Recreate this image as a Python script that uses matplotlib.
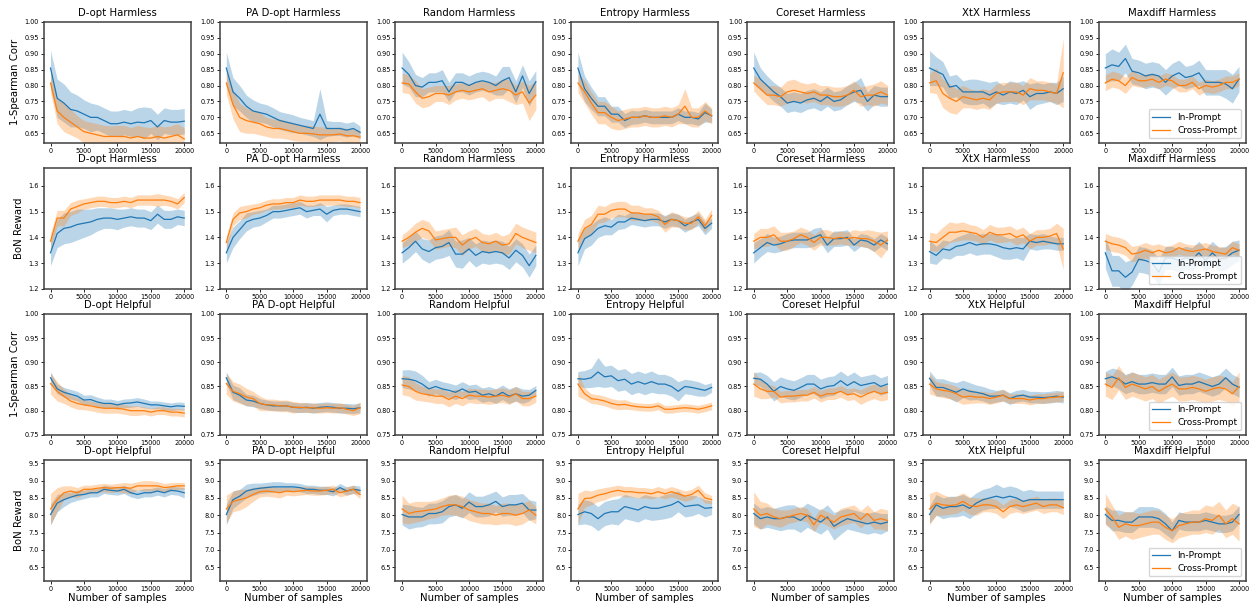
import matplotlib
matplotlib.use("Agg")
import matplotlib.pyplot as plt

SAMPLES = [0, 1000, 2000, 3000, 4000, 5000, 6000, 7000, 8000, 9000, 10000,
           11000, 12000, 13000, 14000, 15000, 16000, 17000, 18000, 19000, 20000]

METHODS = ["D-opt", "PA D-opt", "Random", "Entropy", "Coreset", "XtX", "Maxdiff"]
ROW_TASKS = ["Harmless", "Harmless", "Helpful", "Helpful"]
ROW_YLABELS = ["1-Spearman Corr", "BoN Reward", "1-Spearman Corr", "BoN Reward"]
SERIES_LABELS = ["In-Prompt", "Cross-Prompt"]

# ---------------- Row 1: Harmless, 1-Spearman Corr ----------------
dopt_hl_corr_in = [0.855,0.76,0.745,0.725,0.72,0.71,0.70,0.70,0.69,0.68,0.68,0.685,0.68,0.685,0.683,0.69,0.67,0.69,0.685,0.685,0.688]
dopt_hl_corr_in_sd = [0.055,0.06,0.06,0.055,0.05,0.045,0.045,0.04,0.04,0.04,0.04,0.04,0.04,0.045,0.05,0.04,0.04,0.04,0.04,0.04,0.04]
dopt_hl_corr_cr = [0.808,0.72,0.70,0.685,0.67,0.655,0.65,0.645,0.64,0.64,0.64,0.64,0.635,0.64,0.635,0.635,0.64,0.635,0.64,0.645,0.632]
dopt_hl_corr_cr_sd = [0.03,0.04,0.045,0.04,0.035,0.035,0.035,0.035,0.035,0.033,0.035,0.035,0.033,0.035,0.035,0.033,0.035,0.035,0.033,0.035,0.035]

padopt_hl_corr_in = [0.855,0.78,0.76,0.735,0.72,0.715,0.71,0.70,0.69,0.685,0.68,0.675,0.67,0.665,0.71,0.665,0.665,0.665,0.66,0.665,0.653]
padopt_hl_corr_in_sd = [0.05,0.045,0.04,0.035,0.035,0.03,0.03,0.03,0.028,0.028,0.028,0.025,0.025,0.025,0.08,0.025,0.022,0.022,0.022,0.022,0.02]
padopt_hl_corr_cr = [0.808,0.74,0.70,0.69,0.685,0.68,0.67,0.665,0.665,0.66,0.655,0.65,0.65,0.648,0.645,0.645,0.645,0.648,0.642,0.642,0.638]
padopt_hl_corr_cr_sd = [0.035,0.045,0.045,0.04,0.035,0.035,0.03,0.03,0.03,0.028,0.028,0.025,0.025,0.025,0.025,0.025,0.022,0.022,0.022,0.022,0.02]

random_hl_corr_in = [0.855,0.835,0.80,0.795,0.81,0.81,0.815,0.78,0.81,0.81,0.80,0.81,0.815,0.81,0.80,0.815,0.825,0.78,0.83,0.775,0.812]
random_hl_corr_in_sd = [0.05,0.04,0.035,0.03,0.03,0.03,0.035,0.03,0.03,0.03,0.03,0.03,0.03,0.03,0.03,0.045,0.035,0.035,0.035,0.04,0.035]
random_hl_corr_cr = [0.808,0.805,0.78,0.76,0.765,0.775,0.775,0.77,0.78,0.785,0.78,0.785,0.79,0.78,0.785,0.79,0.785,0.77,0.78,0.745,0.77]
random_hl_corr_cr_sd = [0.03,0.03,0.035,0.03,0.03,0.025,0.025,0.03,0.025,0.025,0.025,0.025,0.025,0.03,0.025,0.03,0.035,0.03,0.035,0.055,0.045]

entropy_hl_corr_in = [0.855,0.79,0.76,0.735,0.735,0.71,0.71,0.69,0.70,0.70,0.705,0.70,0.70,0.70,0.70,0.71,0.70,0.70,0.695,0.715,0.705]
entropy_hl_corr_in_sd = [0.05,0.04,0.035,0.03,0.03,0.025,0.025,0.022,0.022,0.02,0.02,0.02,0.02,0.02,0.02,0.02,0.02,0.02,0.02,0.03,0.02]
entropy_hl_corr_cr = [0.808,0.78,0.745,0.715,0.715,0.70,0.69,0.695,0.70,0.70,0.705,0.70,0.70,0.705,0.70,0.71,0.735,0.70,0.70,0.72,0.705]
entropy_hl_corr_cr_sd = [0.03,0.035,0.035,0.035,0.035,0.035,0.03,0.03,0.03,0.03,0.03,0.03,0.03,0.03,0.03,0.03,0.055,0.03,0.03,0.03,0.025]

coreset_hl_corr_in = [0.855,0.82,0.80,0.78,0.765,0.745,0.75,0.745,0.755,0.76,0.75,0.765,0.75,0.755,0.77,0.78,0.785,0.75,0.77,0.765,0.765]
coreset_hl_corr_in_sd = [0.05,0.035,0.03,0.03,0.03,0.03,0.03,0.03,0.03,0.03,0.03,0.03,0.03,0.03,0.03,0.03,0.04,0.03,0.03,0.03,0.03]
coreset_hl_corr_cr = [0.808,0.79,0.77,0.77,0.765,0.78,0.785,0.78,0.775,0.78,0.77,0.77,0.765,0.765,0.77,0.785,0.765,0.77,0.77,0.78,0.77]
coreset_hl_corr_cr_sd = [0.025,0.03,0.03,0.03,0.03,0.035,0.035,0.03,0.03,0.03,0.03,0.03,0.03,0.03,0.03,0.03,0.03,0.03,0.035,0.035,0.03]

xtx_hl_corr_in = [0.855,0.845,0.835,0.795,0.80,0.78,0.78,0.78,0.78,0.77,0.78,0.77,0.78,0.775,0.785,0.765,0.775,0.775,0.78,0.775,0.79]
xtx_hl_corr_in_sd = [0.055,0.045,0.04,0.035,0.035,0.035,0.04,0.04,0.035,0.04,0.035,0.03,0.035,0.035,0.03,0.04,0.035,0.03,0.03,0.035,0.04]
xtx_hl_corr_cr = [0.808,0.815,0.775,0.76,0.75,0.765,0.76,0.755,0.76,0.755,0.775,0.78,0.78,0.78,0.77,0.79,0.785,0.785,0.78,0.775,0.84]
xtx_hl_corr_cr_sd = [0.03,0.04,0.045,0.045,0.04,0.035,0.03,0.03,0.03,0.03,0.03,0.03,0.03,0.03,0.03,0.035,0.03,0.03,0.03,0.03,0.11]

maxdiff_hl_corr_in = [0.855,0.865,0.86,0.885,0.845,0.84,0.83,0.835,0.83,0.81,0.83,0.84,0.825,0.83,0.84,0.81,0.81,0.81,0.805,0.79,0.82]
maxdiff_hl_corr_in_sd = [0.045,0.05,0.045,0.045,0.04,0.04,0.04,0.04,0.04,0.04,0.04,0.04,0.035,0.035,0.04,0.04,0.04,0.04,0.045,0.045,0.04]
maxdiff_hl_corr_cr = [0.808,0.82,0.815,0.80,0.825,0.815,0.815,0.82,0.81,0.82,0.815,0.80,0.80,0.81,0.79,0.80,0.795,0.80,0.81,0.81,0.82]
maxdiff_hl_corr_cr_sd = [0.025,0.025,0.025,0.025,0.025,0.02,0.02,0.02,0.02,0.02,0.02,0.02,0.02,0.02,0.02,0.02,0.02,0.02,0.02,0.02,0.02]

# ---------------- Row 2: Harmless, BoN Reward ----------------
dopt_hl_bon_in = [1.34,1.415,1.435,1.44,1.45,1.455,1.46,1.47,1.475,1.475,1.47,1.475,1.48,1.475,1.475,1.465,1.49,1.47,1.47,1.48,1.475]
dopt_hl_bon_in_sd = [0.05,0.055,0.06,0.06,0.06,0.055,0.05,0.045,0.04,0.04,0.04,0.035,0.035,0.035,0.035,0.035,0.035,0.035,0.035,0.03,0.03]
dopt_hl_bon_cr = [1.385,1.475,1.475,1.51,1.52,1.53,1.535,1.54,1.54,1.535,1.535,1.54,1.535,1.545,1.545,1.545,1.545,1.545,1.54,1.53,1.555]
dopt_hl_bon_cr_sd = [0.03,0.03,0.03,0.025,0.025,0.02,0.02,0.02,0.02,0.02,0.02,0.02,0.02,0.02,0.02,0.02,0.025,0.02,0.02,0.02,0.02]

padopt_hl_bon_in = [1.34,1.40,1.43,1.46,1.47,1.475,1.485,1.50,1.50,1.505,1.51,1.515,1.50,1.505,1.51,1.49,1.505,1.51,1.51,1.505,1.50]
padopt_hl_bon_in_sd = [0.04,0.04,0.035,0.035,0.03,0.03,0.025,0.025,0.025,0.025,0.025,0.025,0.025,0.02,0.025,0.03,0.02,0.02,0.02,0.02,0.02]
padopt_hl_bon_cr = [1.38,1.47,1.495,1.50,1.51,1.515,1.525,1.53,1.53,1.535,1.535,1.545,1.54,1.54,1.545,1.545,1.545,1.545,1.54,1.54,1.535]
padopt_hl_bon_cr_sd = [0.025,0.025,0.025,0.025,0.02,0.02,0.02,0.02,0.02,0.02,0.02,0.02,0.02,0.02,0.02,0.02,0.02,0.02,0.02,0.02,0.02]

random_hl_bon_in = [1.34,1.36,1.385,1.355,1.345,1.36,1.365,1.38,1.335,1.335,1.355,1.33,1.345,1.34,1.345,1.34,1.32,1.35,1.33,1.29,1.33]
random_hl_bon_in_sd = [0.04,0.04,0.04,0.04,0.045,0.045,0.045,0.05,0.05,0.055,0.045,0.045,0.045,0.045,0.045,0.045,0.045,0.045,0.045,0.045,0.04]
random_hl_bon_cr = [1.385,1.40,1.42,1.435,1.425,1.39,1.395,1.40,1.40,1.37,1.39,1.40,1.38,1.375,1.385,1.37,1.375,1.415,1.40,1.39,1.38]
random_hl_bon_cr_sd = [0.025,0.03,0.035,0.035,0.035,0.035,0.035,0.035,0.04,0.04,0.035,0.035,0.035,0.035,0.035,0.035,0.04,0.04,0.04,0.04,0.04]

entropy_hl_bon_in = [1.34,1.395,1.41,1.435,1.445,1.44,1.46,1.46,1.475,1.47,1.465,1.47,1.47,1.46,1.47,1.465,1.445,1.46,1.47,1.435,1.455]
entropy_hl_bon_in_sd = [0.05,0.04,0.04,0.035,0.035,0.03,0.03,0.025,0.025,0.025,0.025,0.025,0.025,0.025,0.025,0.025,0.025,0.025,0.025,0.025,0.02]
entropy_hl_bon_cr = [1.385,1.435,1.45,1.49,1.49,1.505,1.51,1.51,1.495,1.495,1.49,1.49,1.48,1.45,1.47,1.465,1.455,1.455,1.48,1.445,1.485]
entropy_hl_bon_cr_sd = [0.03,0.035,0.035,0.035,0.03,0.03,0.03,0.03,0.03,0.03,0.025,0.025,0.025,0.03,0.03,0.025,0.025,0.025,0.025,0.025,0.025]

coreset_hl_bon_in = [1.34,1.36,1.38,1.37,1.375,1.385,1.39,1.39,1.39,1.40,1.41,1.37,1.395,1.395,1.40,1.37,1.39,1.385,1.37,1.39,1.375]
coreset_hl_bon_in_sd = [0.04,0.035,0.035,0.03,0.03,0.03,0.03,0.03,0.03,0.035,0.03,0.03,0.03,0.03,0.03,0.025,0.025,0.025,0.025,0.025,0.025]
coreset_hl_bon_cr = [1.385,1.40,1.40,1.41,1.385,1.385,1.395,1.41,1.40,1.38,1.40,1.40,1.395,1.40,1.395,1.40,1.395,1.395,1.385,1.37,1.39]
coreset_hl_bon_cr_sd = [0.03,0.035,0.035,0.035,0.035,0.035,0.03,0.03,0.03,0.03,0.03,0.03,0.025,0.025,0.025,0.03,0.03,0.035,0.04,0.05,0.035]

xtx_hl_bon_in = [1.345,1.33,1.355,1.35,1.365,1.37,1.38,1.37,1.375,1.375,1.37,1.36,1.355,1.36,1.355,1.385,1.38,1.385,1.38,1.375,1.375]
xtx_hl_bon_in_sd = [0.045,0.035,0.035,0.035,0.035,0.04,0.04,0.04,0.04,0.04,0.045,0.045,0.04,0.04,0.045,0.03,0.03,0.03,0.025,0.025,0.025]
xtx_hl_bon_cr = [1.385,1.38,1.40,1.42,1.42,1.425,1.42,1.415,1.40,1.42,1.41,1.41,1.415,1.40,1.41,1.385,1.40,1.40,1.405,1.415,1.355]
xtx_hl_bon_cr_sd = [0.035,0.035,0.04,0.04,0.035,0.035,0.03,0.03,0.03,0.03,0.03,0.03,0.03,0.03,0.03,0.03,0.03,0.03,0.03,0.04,0.08]

maxdiff_hl_bon_in = [1.34,1.27,1.27,1.245,1.265,1.315,1.31,1.30,1.265,1.32,1.32,1.31,1.32,1.315,1.34,1.31,1.34,1.315,1.32,1.34,1.35]
maxdiff_hl_bon_in_sd = [0.06,0.06,0.06,0.06,0.05,0.05,0.05,0.05,0.05,0.045,0.045,0.045,0.045,0.045,0.045,0.045,0.045,0.045,0.045,0.045,0.04]
maxdiff_hl_bon_cr = [1.385,1.375,1.37,1.36,1.335,1.34,1.35,1.34,1.35,1.34,1.345,1.36,1.35,1.345,1.35,1.355,1.345,1.34,1.335,1.36,1.35]
maxdiff_hl_bon_cr_sd = [0.03,0.03,0.03,0.03,0.03,0.03,0.03,0.03,0.025,0.025,0.025,0.025,0.025,0.025,0.025,0.025,0.025,0.025,0.025,0.025,0.025]

# ---------------- Row 3: Helpful, 1-Spearman Corr ----------------
dopt_hp_corr_in = [0.868,0.845,0.838,0.834,0.83,0.822,0.823,0.818,0.815,0.815,0.812,0.815,0.816,0.818,0.815,0.812,0.812,0.81,0.808,0.81,0.809]
dopt_hp_corr_in_sd = [0.012,0.01,0.01,0.01,0.01,0.01,0.01,0.01,0.009,0.009,0.009,0.009,0.009,0.009,0.009,0.008,0.008,0.008,0.008,0.008,0.008]
dopt_hp_corr_cr = [0.856,0.84,0.83,0.82,0.815,0.812,0.81,0.807,0.805,0.805,0.805,0.803,0.80,0.80,0.80,0.797,0.80,0.80,0.797,0.797,0.795]
dopt_hp_corr_cr_sd = [0.022,0.02,0.015,0.012,0.012,0.01,0.01,0.01,0.01,0.01,0.01,0.01,0.01,0.01,0.008,0.008,0.008,0.008,0.008,0.008,0.008]

padopt_hp_corr_in = [0.868,0.838,0.832,0.822,0.82,0.815,0.812,0.81,0.81,0.81,0.807,0.806,0.807,0.805,0.807,0.808,0.807,0.805,0.805,0.804,0.806]
padopt_hp_corr_in_sd = [0.012,0.015,0.015,0.012,0.012,0.01,0.01,0.01,0.01,0.01,0.01,0.01,0.01,0.01,0.01,0.01,0.01,0.01,0.01,0.01,0.01]
padopt_hp_corr_cr = [0.856,0.84,0.835,0.828,0.825,0.815,0.812,0.812,0.81,0.81,0.807,0.807,0.806,0.806,0.805,0.806,0.805,0.806,0.803,0.80,0.806]
padopt_hp_corr_cr_sd = [0.022,0.02,0.02,0.018,0.015,0.015,0.012,0.012,0.012,0.012,0.012,0.01,0.01,0.01,0.01,0.01,0.01,0.01,0.01,0.01,0.012]

random_hp_corr_in = [0.866,0.865,0.862,0.855,0.845,0.85,0.845,0.842,0.838,0.845,0.838,0.84,0.832,0.835,0.83,0.838,0.83,0.835,0.83,0.832,0.842]
random_hp_corr_in_sd = [0.018,0.02,0.02,0.018,0.015,0.015,0.015,0.015,0.015,0.015,0.015,0.015,0.015,0.015,0.015,0.015,0.015,0.015,0.015,0.012,0.01]
random_hp_corr_cr = [0.853,0.85,0.84,0.835,0.833,0.83,0.83,0.823,0.83,0.825,0.832,0.83,0.83,0.828,0.83,0.832,0.828,0.835,0.825,0.825,0.83]
random_hp_corr_cr_sd = [0.02,0.02,0.018,0.015,0.015,0.015,0.015,0.015,0.015,0.015,0.015,0.015,0.015,0.015,0.015,0.015,0.015,0.015,0.015,0.015,0.012]

entropy_hp_corr_in = [0.866,0.865,0.868,0.88,0.87,0.872,0.862,0.865,0.855,0.86,0.855,0.86,0.855,0.855,0.85,0.84,0.85,0.848,0.845,0.842,0.848]
entropy_hp_corr_in_sd = [0.015,0.018,0.02,0.03,0.022,0.022,0.022,0.022,0.022,0.022,0.022,0.022,0.02,0.02,0.02,0.02,0.015,0.015,0.015,0.012,0.01]
entropy_hp_corr_cr = [0.855,0.835,0.825,0.823,0.82,0.815,0.812,0.813,0.81,0.808,0.807,0.807,0.81,0.803,0.803,0.805,0.806,0.805,0.803,0.806,0.81]
entropy_hp_corr_cr_sd = [0.025,0.012,0.01,0.01,0.01,0.01,0.01,0.01,0.008,0.008,0.008,0.008,0.008,0.008,0.008,0.008,0.008,0.008,0.008,0.008,0.008]

coreset_hp_corr_in = [0.867,0.865,0.855,0.84,0.85,0.845,0.842,0.848,0.855,0.855,0.845,0.85,0.852,0.862,0.852,0.86,0.852,0.855,0.858,0.85,0.855]
coreset_hp_corr_in_sd = [0.012,0.015,0.018,0.02,0.02,0.02,0.02,0.02,0.02,0.02,0.02,0.02,0.02,0.02,0.02,0.02,0.018,0.018,0.018,0.018,0.018]
coreset_hp_corr_cr = [0.855,0.845,0.84,0.84,0.828,0.83,0.83,0.832,0.832,0.838,0.83,0.835,0.835,0.84,0.833,0.835,0.828,0.835,0.84,0.835,0.838]
coreset_hp_corr_cr_sd = [0.025,0.02,0.015,0.012,0.012,0.012,0.012,0.012,0.012,0.012,0.012,0.012,0.012,0.012,0.012,0.012,0.015,0.015,0.015,0.015,0.015]

xtx_hp_corr_in = [0.867,0.848,0.848,0.843,0.838,0.845,0.84,0.838,0.835,0.83,0.83,0.832,0.825,0.83,0.832,0.828,0.828,0.827,0.828,0.83,0.828]
xtx_hp_corr_in_sd = [0.015,0.018,0.018,0.018,0.02,0.018,0.018,0.015,0.015,0.015,0.012,0.012,0.012,0.012,0.012,0.012,0.012,0.012,0.012,0.012,0.012]
xtx_hp_corr_cr = [0.855,0.845,0.842,0.84,0.835,0.828,0.83,0.828,0.828,0.825,0.828,0.832,0.825,0.825,0.825,0.822,0.825,0.825,0.827,0.828,0.83]
xtx_hp_corr_cr_sd = [0.02,0.015,0.015,0.015,0.015,0.015,0.015,0.012,0.012,0.012,0.012,0.012,0.01,0.01,0.01,0.01,0.01,0.01,0.01,0.01,0.01]

maxdiff_hp_corr_in = [0.866,0.87,0.865,0.855,0.86,0.855,0.855,0.858,0.855,0.855,0.87,0.852,0.855,0.855,0.86,0.855,0.85,0.855,0.868,0.855,0.848]
maxdiff_hp_corr_in_sd = [0.015,0.018,0.02,0.02,0.02,0.02,0.02,0.02,0.02,0.02,0.02,0.02,0.02,0.02,0.02,0.02,0.02,0.02,0.02,0.02,0.02]
maxdiff_hp_corr_cr = [0.855,0.848,0.868,0.848,0.855,0.85,0.845,0.85,0.84,0.848,0.855,0.845,0.845,0.848,0.845,0.84,0.845,0.848,0.845,0.835,0.85]
maxdiff_hp_corr_cr_sd = [0.025,0.025,0.025,0.025,0.025,0.025,0.025,0.025,0.025,0.025,0.025,0.025,0.025,0.025,0.025,0.025,0.025,0.025,0.025,0.025,0.03]

# ---------------- Row 4: Helpful, BoN Reward ----------------
dopt_hp_bon_in = [8.02,8.35,8.45,8.52,8.58,8.6,8.65,8.65,8.75,8.72,8.7,8.75,8.65,8.6,8.65,8.65,8.7,8.65,8.72,8.7,8.65]
dopt_hp_bon_in_sd = [0.3,0.25,0.2,0.15,0.15,0.12,0.12,0.12,0.12,0.12,0.12,0.12,0.12,0.12,0.12,0.12,0.12,0.12,0.12,0.12,0.15]
dopt_hp_bon_cr = [8.18,8.45,8.65,8.7,8.65,8.75,8.75,8.78,8.8,8.78,8.8,8.8,8.78,8.85,8.85,8.85,8.85,8.8,8.82,8.85,8.85]
dopt_hp_bon_cr_sd = [0.45,0.35,0.2,0.15,0.15,0.12,0.12,0.12,0.12,0.12,0.12,0.15,0.15,0.12,0.15,0.15,0.12,0.12,0.12,0.1,0.1]

padopt_hp_bon_in = [8.02,8.45,8.55,8.7,8.75,8.78,8.8,8.82,8.82,8.82,8.82,8.8,8.75,8.75,8.72,8.72,8.68,8.8,8.7,8.75,8.72]
padopt_hp_bon_in_sd = [0.3,0.25,0.2,0.2,0.18,0.15,0.15,0.15,0.15,0.12,0.12,0.12,0.12,0.12,0.12,0.12,0.12,0.12,0.12,0.12,0.12]
padopt_hp_bon_cr = [8.18,8.4,8.45,8.5,8.6,8.68,8.7,8.68,8.65,8.7,8.68,8.7,8.72,8.7,8.7,8.72,8.75,8.65,8.7,8.75,8.6]
padopt_hp_bon_cr_sd = [0.4,0.3,0.3,0.25,0.2,0.15,0.15,0.15,0.15,0.12,0.12,0.12,0.12,0.12,0.12,0.12,0.12,0.12,0.12,0.12,0.12]

random_hp_bon_in = [8.02,7.95,7.95,7.95,8.05,8.05,8.1,8.25,8.3,8.2,8.38,8.25,8.25,8.3,8.4,8.25,8.3,8.3,8.35,8.15,8.15]
random_hp_bon_in_sd = [0.3,0.35,0.3,0.28,0.3,0.3,0.32,0.3,0.3,0.28,0.3,0.3,0.3,0.32,0.3,0.28,0.3,0.3,0.28,0.3,0.25]
random_hp_bon_cr = [8.18,8.05,8.1,8.12,8.15,8.18,8.25,8.3,8.3,8.25,8.15,8.1,8.05,8.05,8.0,8.05,8.05,8.0,8.05,8.15,8.0]
random_hp_bon_cr_sd = [0.4,0.3,0.3,0.28,0.25,0.25,0.25,0.28,0.3,0.3,0.3,0.3,0.3,0.3,0.28,0.3,0.3,0.3,0.3,0.28,0.25]

entropy_hp_bon_in = [8.02,8.1,8.05,7.9,8.05,8.1,8.1,8.25,8.2,8.15,8.25,8.2,8.2,8.25,8.3,8.4,8.25,8.28,8.3,8.2,8.22]
entropy_hp_bon_in_sd = [0.3,0.35,0.35,0.35,0.35,0.35,0.38,0.35,0.35,0.35,0.35,0.35,0.33,0.35,0.35,0.3,0.3,0.3,0.25,0.25,0.2]
entropy_hp_bon_cr = [8.18,8.48,8.5,8.58,8.62,8.68,8.72,8.68,8.68,8.65,8.65,8.62,8.68,8.62,8.68,8.62,8.55,8.6,8.72,8.5,8.45]
entropy_hp_bon_cr_sd = [0.45,0.25,0.2,0.18,0.18,0.15,0.15,0.15,0.15,0.15,0.15,0.15,0.15,0.15,0.15,0.15,0.15,0.15,0.15,0.15,0.12]

coreset_hp_bon_in = [8.05,7.9,7.95,7.9,7.9,7.95,7.95,7.85,8.0,7.9,7.8,7.95,7.68,7.8,7.9,7.85,7.8,7.75,7.8,7.75,7.8]
coreset_hp_bon_in_sd = [0.3,0.3,0.3,0.3,0.35,0.35,0.35,0.35,0.35,0.35,0.35,0.35,0.4,0.35,0.3,0.3,0.3,0.3,0.3,0.3,0.25]
coreset_hp_bon_cr = [8.18,8.0,8.05,7.95,7.9,7.95,8.0,8.05,8.0,7.72,8.0,7.9,7.8,7.95,8.0,8.05,7.88,8.05,7.85,7.9,7.85]
coreset_hp_bon_cr_sd = [0.5,0.4,0.3,0.25,0.25,0.2,0.2,0.2,0.2,0.2,0.2,0.2,0.2,0.25,0.25,0.25,0.25,0.25,0.25,0.3,0.3]

xtx_hp_bon_in = [8.02,8.3,8.2,8.25,8.25,8.3,8.2,8.35,8.45,8.5,8.55,8.5,8.55,8.5,8.4,8.45,8.45,8.45,8.45,8.45,8.45]
xtx_hp_bon_in_sd = [0.25,0.3,0.3,0.3,0.3,0.3,0.3,0.3,0.3,0.3,0.35,0.3,0.3,0.3,0.3,0.3,0.25,0.25,0.25,0.25,0.25]
xtx_hp_bon_cr = [8.18,8.35,8.3,8.28,8.3,8.4,8.28,8.25,8.3,8.3,8.25,8.1,8.25,8.3,8.25,8.3,8.35,8.25,8.3,8.3,8.22]
xtx_hp_bon_cr_sd = [0.45,0.35,0.3,0.25,0.25,0.25,0.25,0.25,0.2,0.2,0.2,0.2,0.2,0.2,0.2,0.2,0.2,0.2,0.2,0.2,0.2]

maxdiff_hp_bon_in = [8.02,7.85,7.85,7.8,7.8,7.95,7.95,7.95,7.9,7.75,7.55,7.85,7.8,7.8,7.8,7.85,7.8,7.75,7.75,7.8,8.02]
maxdiff_hp_bon_in_sd = [0.25,0.3,0.3,0.3,0.3,0.3,0.3,0.3,0.3,0.3,0.25,0.25,0.25,0.25,0.25,0.25,0.25,0.25,0.25,0.25,0.25]
maxdiff_hp_bon_cr = [8.18,7.95,7.65,7.75,7.7,7.7,7.75,7.8,7.8,7.65,7.55,7.7,7.75,7.8,7.8,7.9,7.85,8.0,7.75,7.9,7.75]
maxdiff_hp_bon_cr_sd = [0.45,0.35,0.35,0.35,0.4,0.35,0.35,0.35,0.35,0.35,0.35,0.35,0.35,0.35,0.35,0.4,0.4,0.4,0.4,0.45,0.5]

ROW_DATA = [
    [(dopt_hl_corr_in, dopt_hl_corr_in_sd, dopt_hl_corr_cr, dopt_hl_corr_cr_sd),
     (padopt_hl_corr_in, padopt_hl_corr_in_sd, padopt_hl_corr_cr, padopt_hl_corr_cr_sd),
     (random_hl_corr_in, random_hl_corr_in_sd, random_hl_corr_cr, random_hl_corr_cr_sd),
     (entropy_hl_corr_in, entropy_hl_corr_in_sd, entropy_hl_corr_cr, entropy_hl_corr_cr_sd),
     (coreset_hl_corr_in, coreset_hl_corr_in_sd, coreset_hl_corr_cr, coreset_hl_corr_cr_sd),
     (xtx_hl_corr_in, xtx_hl_corr_in_sd, xtx_hl_corr_cr, xtx_hl_corr_cr_sd),
     (maxdiff_hl_corr_in, maxdiff_hl_corr_in_sd, maxdiff_hl_corr_cr, maxdiff_hl_corr_cr_sd)],
    [(dopt_hl_bon_in, dopt_hl_bon_in_sd, dopt_hl_bon_cr, dopt_hl_bon_cr_sd),
     (padopt_hl_bon_in, padopt_hl_bon_in_sd, padopt_hl_bon_cr, padopt_hl_bon_cr_sd),
     (random_hl_bon_in, random_hl_bon_in_sd, random_hl_bon_cr, random_hl_bon_cr_sd),
     (entropy_hl_bon_in, entropy_hl_bon_in_sd, entropy_hl_bon_cr, entropy_hl_bon_cr_sd),
     (coreset_hl_bon_in, coreset_hl_bon_in_sd, coreset_hl_bon_cr, coreset_hl_bon_cr_sd),
     (xtx_hl_bon_in, xtx_hl_bon_in_sd, xtx_hl_bon_cr, xtx_hl_bon_cr_sd),
     (maxdiff_hl_bon_in, maxdiff_hl_bon_in_sd, maxdiff_hl_bon_cr, maxdiff_hl_bon_cr_sd)],
    [(dopt_hp_corr_in, dopt_hp_corr_in_sd, dopt_hp_corr_cr, dopt_hp_corr_cr_sd),
     (padopt_hp_corr_in, padopt_hp_corr_in_sd, padopt_hp_corr_cr, padopt_hp_corr_cr_sd),
     (random_hp_corr_in, random_hp_corr_in_sd, random_hp_corr_cr, random_hp_corr_cr_sd),
     (entropy_hp_corr_in, entropy_hp_corr_in_sd, entropy_hp_corr_cr, entropy_hp_corr_cr_sd),
     (coreset_hp_corr_in, coreset_hp_corr_in_sd, coreset_hp_corr_cr, coreset_hp_corr_cr_sd),
     (xtx_hp_corr_in, xtx_hp_corr_in_sd, xtx_hp_corr_cr, xtx_hp_corr_cr_sd),
     (maxdiff_hp_corr_in, maxdiff_hp_corr_in_sd, maxdiff_hp_corr_cr, maxdiff_hp_corr_cr_sd)],
    [(dopt_hp_bon_in, dopt_hp_bon_in_sd, dopt_hp_bon_cr, dopt_hp_bon_cr_sd),
     (padopt_hp_bon_in, padopt_hp_bon_in_sd, padopt_hp_bon_cr, padopt_hp_bon_cr_sd),
     (random_hp_bon_in, random_hp_bon_in_sd, random_hp_bon_cr, random_hp_bon_cr_sd),
     (entropy_hp_bon_in, entropy_hp_bon_in_sd, entropy_hp_bon_cr, entropy_hp_bon_cr_sd),
     (coreset_hp_bon_in, coreset_hp_bon_in_sd, coreset_hp_bon_cr, coreset_hp_bon_cr_sd),
     (xtx_hp_bon_in, xtx_hp_bon_in_sd, xtx_hp_bon_cr, xtx_hp_bon_cr_sd),
     (maxdiff_hp_bon_in, maxdiff_hp_bon_in_sd, maxdiff_hp_bon_cr, maxdiff_hp_bon_cr_sd)],
]

ROW_YLIM = [(0.62, 1.0), (1.2, 1.67), (0.75, 1.0), (6.1, 9.6)]
ROW_YTICKS = [[0.65, 0.70, 0.75, 0.80, 0.85, 0.90, 0.95, 1.00],
              [1.2, 1.3, 1.4, 1.5, 1.6],
              [0.75, 0.80, 0.85, 0.90, 0.95, 1.00],
              [6.5, 7.0, 7.5, 8.0, 8.5, 9.0, 9.5]]
XTICKS = [0, 5000, 10000, 15000, 20000]
COLORS = ["#1f77b4", "#ff7f0e"]

fig, axes = plt.subplots(4, 7, figsize=(12.52, 6.07), dpi=100)
fig.subplots_adjust(left=0.035, right=0.995, top=0.964, bottom=0.043,
                    wspace=0.195, hspace=0.207)

for r in range(4):
    for c in range(7):
        ax = axes[r, c]
        m_in, s_in, m_cr, s_cr = ROW_DATA[r][c]
        for mean, sd, color, label in ((m_in, s_in, COLORS[0], SERIES_LABELS[0]),
                                       (m_cr, s_cr, COLORS[1], SERIES_LABELS[1])):
            lo = [m - s for m, s in zip(mean, sd)]
            hi = [m + s for m, s in zip(mean, sd)]
            ax.fill_between(SAMPLES, lo, hi, color=color, alpha=0.3, linewidth=0)
            ax.plot(SAMPLES, mean, color=color, linewidth=0.9, label=label)
        ax.set_ylim(*ROW_YLIM[r])
        ax.set_yticks(ROW_YTICKS[r])
        ax.set_xticks(XTICKS)
        ax.set_xlim(-1000, 21000)
        ax.tick_params(labelsize=4.7, length=2, width=0.6, pad=1.5)
        for sp in ax.spines.values():
            sp.set_linewidth(1.1)
            sp.set_color("#404040")
        ax.set_title(f"{METHODS[c]} {ROW_TASKS[r]}", fontsize=7.3, pad=4)
        if c == 0:
            ax.set_ylabel(ROW_YLABELS[r], fontsize=7.3, labelpad=3)
        if r == 3:
            ax.set_xlabel("Number of samples", fontsize=7.3, labelpad=1)
        if c == 6:
            ax.legend(loc="lower right", fontsize=6.5, handlelength=2.0,
                      borderpad=0.4, labelspacing=0.4, framealpha=0.8)

fig.savefig("out.png", dpi=100)
